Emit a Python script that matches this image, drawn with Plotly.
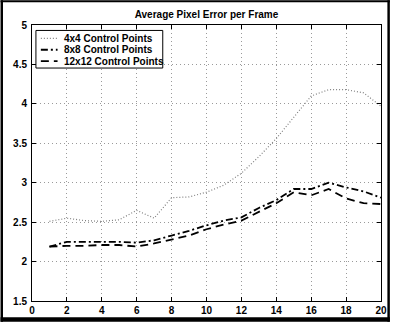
import plotly.graph_objects as go

frames = list(range(1, 21))
err_4x4 = [2.51, 2.55, 2.52, 2.51, 2.53, 2.65, 2.55, 2.81, 2.82, 2.88,
           2.97, 3.12, 3.33, 3.56, 3.83, 4.10, 4.18, 4.18, 4.14, 3.97]
err_8x8 = [2.19, 2.25, 2.25, 2.25, 2.25, 2.24, 2.27, 2.33, 2.39, 2.46,
           2.52, 2.56, 2.68, 2.78, 2.92, 2.92, 3.00, 2.94, 2.89, 2.81]
err_12x12 = [2.19, 2.20, 2.20, 2.21, 2.21, 2.19, 2.23, 2.28, 2.33, 2.41,
             2.47, 2.52, 2.63, 2.74, 2.88, 2.84, 2.92, 2.80, 2.74, 2.73]
series_names = ["4x4 Control Points", "8x8 Control Points", "12x12 Control Points"]
title_text = "Average Pixel Error per Frame"

W, H = 396, 325
L, R, T, B = 32, 9, 25, 21
PW, PH = W - L - R, H - T - B

def px_x(p):
    return (p - L) / PW

def px_y(p):
    return (H - B - p) / PH

FONT = "Liberation Sans, Arial, Helvetica, sans-serif"

styles = [
    dict(color="#808080", width=1.2, dash="1px,2px"),
    dict(color="black", width=1.8, dash="7px,3px,2px,3px"),
    dict(color="black", width=1.8, dash="8px,5px"),
]

fig = go.Figure()
for name, vals, st in zip(series_names, [err_4x4, err_8x8, err_12x12], styles):
    fig.add_trace(go.Scatter(x=frames, y=vals, mode="lines", name=name,
                             line=st, showlegend=False))

axis_common = dict(
    showline=True, linecolor="black", linewidth=1, mirror="ticks",
    ticks="inside", ticklen=4, tickcolor="black", tickwidth=1,
    showgrid=True, gridcolor="#9a9a9a", griddash="1px,3px", gridwidth=1,
    zeroline=False,
    tickfont=dict(family=FONT, size=10, color="black", weight="bold"),
)

fig.update_xaxes(range=[0, 20], dtick=2, tick0=0, **axis_common)
fig.update_yaxes(range=[1.5, 5], dtick=0.5, tick0=1.5, ticklabelstandoff=2, **axis_common)

shapes = []
annotations = []

# figure frame
borders = [
    (0, 0, 2.5, H),
    (W - 2.5, 0, W, H),
    (0, 0, W, 2),
    (0, H - 4.5, W, H),
]
for x0, y0, x1, y1 in borders:
    shapes.append(dict(type="rect", xref="paper", yref="paper",
                       x0=px_x(x0), x1=px_x(x1), y0=px_y(y1), y1=px_y(y0),
                       fillcolor="black", line=dict(width=0), layer="above"))

# legend box
shapes.append(dict(type="rect", xref="paper", yref="paper",
                   x0=px_x(36), x1=px_x(165), y0=px_y(68.5), y1=px_y(30.5),
                   fillcolor="white", line=dict(color="black", width=1), layer="above"))
entry_y = [38.5, 50, 61.5]
for name, st, ey in zip(series_names, styles, entry_y):
    shapes.append(dict(type="line", xref="paper", yref="paper",
                       x0=px_x(41), x1=px_x(58), y0=px_y(ey), y1=px_y(ey),
                       line=st, layer="above"))
    annotations.append(dict(text=name, xref="paper", yref="paper",
                            x=px_x(63), y=px_y(ey), xanchor="left", yanchor="middle",
                            showarrow=False,
                            font=dict(family=FONT, size=10, color="black", weight="bold")))

fig.update_layout(
    width=W, height=H,
    margin=dict(l=L, r=R, t=T, b=B),
    paper_bgcolor="white", plot_bgcolor="white",
    title=dict(text=title_text, x=px_x(209.5), xanchor="center",
               xref="paper", y=1 - 14 / H, yanchor="middle",
               font=dict(family=FONT, size=10, color="black", weight="bold")),
    showlegend=False,
    shapes=shapes,
    annotations=annotations,
)

fig.write_html("out.html")
